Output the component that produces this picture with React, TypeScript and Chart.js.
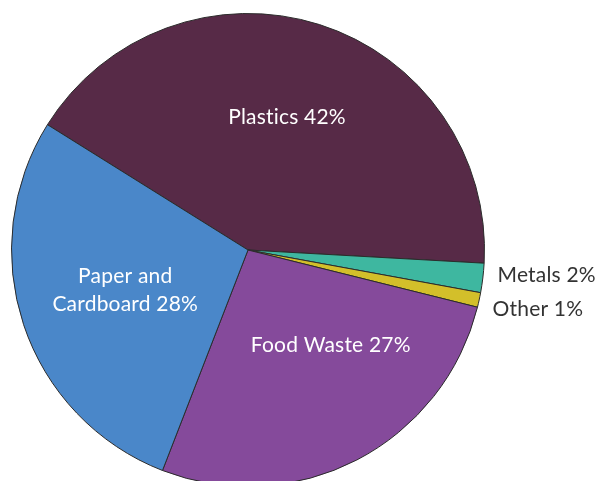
import React, { useEffect, useRef } from "react";
import { Chart, registerables } from "chart.js";
Chart.register(...registerables);

const categories = ["Plastics", "Metals", "Other", "Food Waste", "Paper and\nCardboard"];
const shares = [42, 2, 1, 27, 28];
const sliceColors = ["#572A47", "#3EB7A0", "#D3BF2A", "#854A9B", "#4A87C9"];

// label anchors relative to the pie centre, in units of the outer radius
const labelAnchors: [number, number][] = [
  [0.165, -0.561],
  [1.055, 0.105],
  [1.034, 0.249],
  [0.35, 0.401],
  [-0.519, 0.169],
];
const labelInside = [true, false, false, true, true];

const W = 595;
const H = 500;
const CX = 248;
const CY = 250;
const R = 237;

export default function App() {
  const ref = useRef<HTMLCanvasElement>(null);

  useEffect(() => {
    if (!ref.current) return;
    const labelPlugin = {
      id: "sliceLabels",
      afterDatasetsDraw(chart: any) {
        const meta = chart.getDatasetMeta(0);
        const ctx = chart.ctx;
        ctx.save();
        ctx.textBaseline = "middle";
        ctx.font = "21px Lato";
        try {
          (ctx as any).letterSpacing = "0.2px";
        } catch (e) {}
        meta.data.forEach((arc: any, i: number) => {
          const { x, y, outerRadius } = arc.getProps(["x", "y", "outerRadius"], true);
          const [fx, fy] = labelAnchors[i];
          const px = x + fx * outerRadius;
          const py = y + fy * outerRadius;
          const lines = (categories[i] + " " + shares[i] + "%").split("\n");
          const lh = 28;
          const top = py - ((lines.length - 1) * lh) / 2;
          if (labelInside[i]) {
            ctx.fillStyle = "#FFFFFF";
            ctx.textAlign = "center";
          } else {
            ctx.fillStyle = "#333333";
            ctx.textAlign = "left";
          }
          lines.forEach((ln, k) => ctx.fillText(ln, px, top + k * lh));
        });
        ctx.restore();
      },
    };

    const chart = new Chart(ref.current, {
      type: "pie",
      data: {
        labels: categories,
        datasets: [
          {
            data: shares,
            backgroundColor: sliceColors,
            borderColor: "#2B2B2B",
            borderWidth: 1,
          },
        ],
      },
      options: {
        responsive: false,
        animation: false,
        rotation: -58,
        layout: {
          padding: {
            left: CX - R,
            top: CY - R,
            right: W - (CX + R),
            bottom: H - (CY + R),
          },
        },
        plugins: {
          legend: { display: false },
          tooltip: { enabled: false },
        },
        events: [],
      },
      plugins: [labelPlugin],
    });
    return () => chart.destroy();
  }, []);

  return (
    <div
      style={{
        position: "fixed",
        left: 0,
        top: 0,
        width: W,
        height: 481,
        overflow: "hidden",
        background: "#FFFFFF",
      }}
    >
      <canvas ref={ref} width={W} height={H} style={{ display: "block", width: W, height: H }} />
    </div>
  );
}
